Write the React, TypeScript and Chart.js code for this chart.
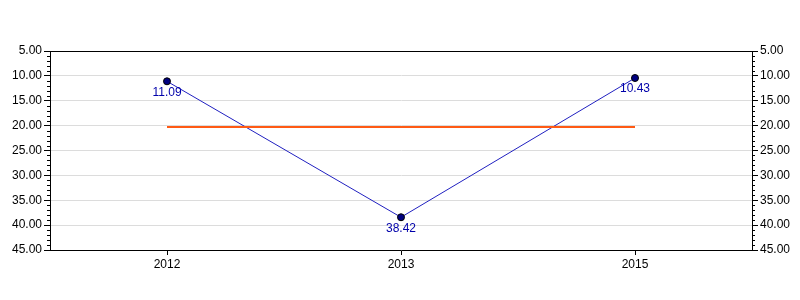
import React, { useEffect, useRef } from "react";
import { Chart, registerables } from "chart.js";

Chart.register(...registerables);

const categories = ["2012", "2013", "2015"];
const seriesValues = [11.09, 38.42, 10.43];
const referenceValues = [20.3, 20.3, 20.3];
const yMin = 5;
const yMax = 45;
const majorStep = 5;
const minorStep = 1;

const FONT = "Arial, 'Liberation Sans', sans-serif";

const minorTicksPlugin = {
  id: "minorTicks",
  afterDraw(chart: any) {
    const ctx = chart.ctx;
    ctx.save();
    ctx.strokeStyle = "#000";
    ctx.lineWidth = 1;
    ["y", "y2"].forEach((id) => {
      const scale = chart.scales[id];
      if (!scale) return;
      for (let v = yMin; v <= yMax; v += minorStep) {
        if (v % majorStep === 0) continue;
        const py = Math.round(scale.getPixelForValue(v)) + 0.5;
        ctx.beginPath();
        if (id === "y") {
          ctx.moveTo(chart.chartArea.left - 3, py);
          ctx.lineTo(chart.chartArea.left, py);
        } else {
          ctx.moveTo(chart.chartArea.right, py);
          ctx.lineTo(chart.chartArea.right + 3, py);
        }
        ctx.stroke();
      }
    });
    const a = chart.chartArea;
    ctx.beginPath();
    ctx.moveTo(a.left, Math.round(a.top) + 0.5);
    ctx.lineTo(a.right, Math.round(a.top) + 0.5);
    ctx.stroke();
    ctx.restore();
  },
};

const valueLabelPlugin = {
  id: "valueLabels",
  afterDatasetsDraw(chart: any) {
    const ctx = chart.ctx;
    const meta = chart.getDatasetMeta(1);
    ctx.save();
    ctx.font = "12px " + FONT;
    ctx.fillStyle = "#0000aa";
    ctx.textAlign = "center";
    ctx.textBaseline = "top";
    meta.data.forEach((el: any, i: number) => {
      ctx.fillText(seriesValues[i].toFixed(2), el.x, el.y + 5);
    });
    ctx.restore();
  },
};

export default function App() {
  const ref = useRef<HTMLCanvasElement>(null);
  useEffect(() => {
    if (!ref.current) return;
    const chart = new Chart(ref.current, {
      type: "line",
      data: {
        labels: categories,
        datasets: [
          {
            data: referenceValues,
            borderColor: "#ff5a14",
            borderWidth: 2,
            pointRadius: 0,
            yAxisID: "y",
          },
          {
            data: seriesValues,
            borderColor: "#2020c0",
            borderWidth: 1,
            pointRadius: 3.5,
            pointBackgroundColor: "#000080",
            pointBorderColor: "#000",
            pointBorderWidth: 1,
            yAxisID: "y",
          },
        ],
      },
      options: {
        responsive: false,
        animation: false,
        layout: { padding: { top: 51 } },
        plugins: { legend: { display: false }, tooltip: { enabled: false } },
        scales: {
          x: {
            offset: true,
            grid: {
              offset: false,
              drawOnChartArea: false,
              tickLength: 5,
              tickColor: "#000",
            },
            border: { color: "#000", width: 1 },
            ticks: { color: "#000", font: { family: FONT, size: 12 }, padding: 2 },
            afterFit(s: any) {
              s.height = 50;
            },
          },
          y: {
            position: "left",
            reverse: true,
            min: yMin,
            max: yMax,
            grid: {
              color: "#dcdcdc",
              tickColor: "#000",
              tickLength: 6,
            },
            border: { color: "#000", width: 1 },
            ticks: {
              stepSize: majorStep,
              color: "#000",
              font: { family: FONT, size: 12 },
              padding: 2,
              callback: (v: any) => Number(v).toFixed(2),
            },
            afterFit(s: any) {
              s.width = 50;
            },
          },
          y2: {
            position: "right",
            reverse: true,
            min: yMin,
            max: yMax,
            grid: {
              drawOnChartArea: false,
              tickColor: "#000",
              tickLength: 6,
            },
            border: { color: "#000", width: 1 },
            ticks: {
              stepSize: majorStep,
              color: "#000",
              font: { family: FONT, size: 12 },
              padding: 2,
              callback: (v: any) => Number(v).toFixed(2),
            },
            afterFit(s: any) {
              s.width = 48;
            },
          },
        },
      },
      plugins: [minorTicksPlugin, valueLabelPlugin],
    });
    return () => chart.destroy();
  }, []);
  return (
    <div style={{ position: "absolute", left: 0, top: 0, width: 800, height: 300, background: "#fff" }}>
      <canvas ref={ref} width={800} height={300} />
    </div>
  );
}
